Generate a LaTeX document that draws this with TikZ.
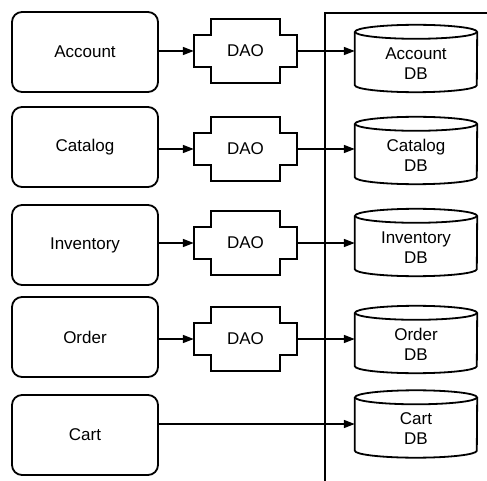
\documentclass[tikz,border=0pt]{standalone}
\usepackage{fontspec}
\setmainfont{Liberation Sans}
\usetikzlibrary{arrows.meta,calc}

\begin{document}
\begin{tikzpicture}[x=1pt,y=1pt,
  every node/.style={font=\fontsize{17}{20}\selectfont},
  line/.style={line width=1.8pt},
  comp/.style={draw,line width=1.8pt,rounded corners=10pt,
               minimum width=146pt,minimum height=80pt},
  daobox/.style={minimum width=103pt,minimum height=63pt,inner sep=0pt},
  dbbox/.style={minimum width=122pt,minimum height=67pt,inner sep=0pt},
  dbtext/.style={align=center,inner sep=0pt},
  flow/.style={line width=1.5pt,-{Triangle[length=11pt,width=8pt]}}
]
\useasboundingbox (0,0) rectangle (487,-481);

% components
\node[comp] (acc)  at (85,-52)  {Account};
\node[comp] (cat)  at (85,-147) {Catalog};
\node[comp] (inv)  at (85,-245) {Inventory};
\node[comp] (ord)  at (85,-337) {Order};
\node[comp] (cart) at (85,-435) {Cart};

% data access objects
\node[daobox] (dao1) at (245.5,-51)  {DAO};
\node[daobox] (dao2) at (245.5,-149) {DAO};
\node[daobox] (dao3) at (245.5,-243) {DAO};
\node[daobox] (dao4) at (245.5,-339) {DAO};

\foreach \d in {dao1,dao2,dao3,dao4}{
  \draw[line]
    ([xshift=17pt]\d.north west) -- ([xshift=-17pt]\d.north east)
    -- ([xshift=-17pt,yshift=-15.5pt]\d.north east)
    -- ([yshift=-15.5pt]\d.north east)
    -- ([yshift=15.5pt]\d.south east)
    -- ([xshift=-17pt,yshift=15.5pt]\d.south east)
    -- ([xshift=-17pt]\d.south east)
    -- ([xshift=17pt]\d.south west)
    -- ([xshift=17pt,yshift=15.5pt]\d.south west)
    -- ([yshift=15.5pt]\d.south west)
    -- ([yshift=-15.5pt]\d.north west)
    -- ([xshift=17pt,yshift=-15.5pt]\d.north west)
    -- cycle;
}

% databases
\node[dbbox] (db1) at (416,-58.5) {};
\node[dbbox] (db2) at (416,-150.5) {};
\node[dbbox] (db3) at (416,-242.5) {};
\node[dbbox] (db4) at (416,-339.5) {};
\node[dbbox] (db5) at (416,-424) {};

\foreach \b in {db1,db2,db3,db4,db5}{
  \draw[line] ([yshift=-7pt]\b.north) ellipse [x radius=61pt,y radius=7pt];
  \draw[line] ([yshift=-7pt]\b.north west) -- ([yshift=7pt]\b.south west)
    arc[start angle=180,end angle=360,x radius=61pt,y radius=7pt]
    -- ([yshift=-7pt]\b.north east);
}

\node[dbtext] (db1t) at ([yshift=-5pt]db1.center) {Account\\DB};
\node[dbtext] (db2t) at ([yshift=-5pt]db2.center) {Catalog\\DB};
\node[dbtext] (db3t) at ([yshift=-5pt]db3.center) {Inventory\\DB};
\node[dbtext] (db4t) at ([yshift=-5pt]db4.center) {Order\\DB};
\node[dbtext] (db5t) at ([yshift=-5pt]db5.center) {Cart\\DB};

% tier boundary
\coordinate (bndbot) at (325,-481);
\coordinate (bndtop) at (325,-13);
\coordinate (bndright) at (487,-13);
\draw[line] (bndbot) -- (bndtop) -- (bndright);

% connectors
\draw[flow] (acc.east |- dao1.west) -- (dao1.west);
\draw[flow] (cat.east |- dao2.west) -- (dao2.west);
\draw[flow] (inv.east |- dao3.west) -- (dao3.west);
\draw[flow] (ord.east |- dao4.west) -- (dao4.west);

\draw[flow] (dao1.east) -- (db1.west |- dao1.east);
\draw[flow] (dao2.east) -- (db2.west |- dao2.east);
\draw[flow] (dao3.east) -- (db3.west |- dao3.east);
\draw[flow] (dao4.east) -- (db4.west |- dao4.east);
\draw[flow] (cart.east |- db5.west) -- (db5.west);
\end{tikzpicture}
\end{document}
